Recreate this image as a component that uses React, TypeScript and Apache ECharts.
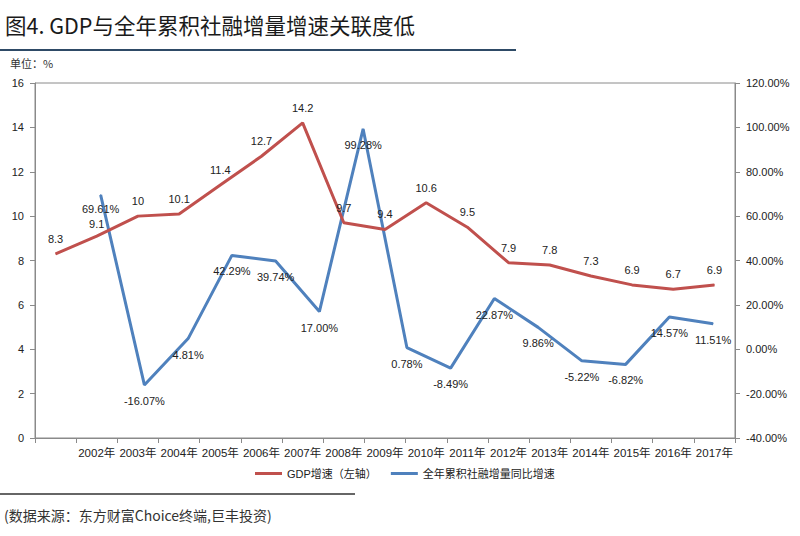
import React, { useEffect, useRef } from "react";
import * as echarts from "echarts";

const TITLE = "图4. GDP与全年累积社融增量增速关联度低";
const UNIT = "单位：%";
const SOURCE = "(数据来源：东方财富Choice终端,巨丰投资)";

const gdpCategories = ["", "2002年", "2003年", "2004年", "2005年", "2006年", "2007年", "2008年", "2009年", "2010年", "2011年", "2012年", "2013年", "2014年", "2015年", "2016年", "2017年"];
const sfCategories = ["2002", "2003", "2004", "2005", "2006", "2007", "2008", "2009", "2010", "2011", "2012", "2013", "2014", "2015", "2016", "2017"];

const gdpName = "GDP增速（左轴）";
const sfName = "全年累积社融增量同比增速";

const gdpValues = [8.3, 9.1, 10, 10.1, 11.4, 12.7, 14.2, 9.7, 9.4, 10.6, 9.5, 7.9, 7.8, 7.3, 6.9, 6.7, 6.9];
const sfValues = [null, 69.61, -16.07, 4.81, 42.29, 39.74, 17.0, 99.28, 0.78, -8.49, 22.87, 9.86, -5.22, -6.82, 14.57, 11.51];

const FONT = "Liberation Sans, 'Noto Sans CJK SC', sans-serif";
const CJK = "'Noto Sans CJK SC', 'Liberation Sans', sans-serif";

export default function App() {
  const ref = useRef<HTMLDivElement>(null);
  useEffect(() => {
    if (!ref.current) return;
    const chart = echarts.init(ref.current, undefined, { renderer: "svg" });
    const axisColor = "#8a8a8a";
    // nudge the one GDP label that sits right under a blue label
    const gdpData = gdpValues.map((v, i) =>
      i === 1 ? { value: v, label: { offset: [0, 3] } } : v
    );
    const sfData = sfValues.map((v, i) =>
      i === 1 ? { value: v, label: { offset: [0, -2] } } : v
    );
    chart.setOption({
      animation: false,
      backgroundColor: "#ffffff",
      textStyle: { fontFamily: FONT },
      grid: {
        left: 35,
        right: 65,
        top: 83,
        bottom: 98,
        show: true,
        borderColor: axisColor,
        borderWidth: 1,
        backgroundColor: "transparent",
      },
      legend: {
        left: 250,
        top: 463,
        itemGap: 14,
        itemWidth: 27,
        itemHeight: 3,
        icon: "rect",
        textStyle: { fontSize: 11, color: "#222", fontFamily: FONT },
        data: [gdpName, sfName],
      },
      xAxis: [
        {
          type: "category",
          data: gdpCategories,
          boundaryGap: true,
          axisLine: { show: true, lineStyle: { color: axisColor } },
          axisTick: { show: true, length: 5, lineStyle: { color: axisColor } },
          axisLabel: { interval: 0, fontSize: 11.5, color: "#222", margin: 9 },
          splitLine: { show: false },
        },
        {
          type: "category",
          data: sfCategories,
          boundaryGap: true,
          show: false,
          position: "top",
        },
      ],
      yAxis: [
        {
          type: "value",
          min: 0,
          max: 16,
          interval: 2,
          axisLine: { show: true, lineStyle: { color: axisColor } },
          axisTick: { show: true, length: 5, lineStyle: { color: axisColor } },
          axisLabel: { fontSize: 11, color: "#222", margin: 11 },
          splitLine: { show: false },
        },
        {
          type: "value",
          min: -40,
          max: 120,
          interval: 20,
          position: "right",
          axisLine: { show: true, lineStyle: { color: axisColor } },
          axisTick: { show: true, length: 5, lineStyle: { color: axisColor } },
          axisLabel: {
            fontSize: 11,
            color: "#222",
            margin: 11,
            formatter: (v: number) => v.toFixed(2) + "%",
          },
          splitLine: { show: false },
        },
      ],
      series: [
        {
          name: gdpName,
          type: "line",
          xAxisIndex: 0,
          yAxisIndex: 0,
          data: gdpData,
          symbol: "circle",
          symbolSize: 1,
          itemStyle: { color: "#C0504D" },
          lineStyle: { color: "#C0504D", width: 3 },
          label: {
            show: true,
            position: "top",
            distance: 9,
            fontSize: 11,
            color: "#222",
          },
          z: 3,
        },
        {
          name: sfName,
          type: "line",
          xAxisIndex: 1,
          yAxisIndex: 1,
          data: sfData,
          connectNulls: false,
          symbol: "circle",
          symbolSize: 1,
          itemStyle: { color: "#4F81BD" },
          lineStyle: { color: "#4F81BD", width: 3 },
          label: {
            show: true,
            position: "bottom",
            distance: 10,
            fontSize: 11,
            color: "#222",
            formatter: (p: any) => (p.value == null ? "" : Number(p.value).toFixed(2) + "%"),
          },
          z: 2,
        },
      ],
      graphic: [
        {
          type: "text",
          left: 5,
          top: 14,
          style: { text: TITLE, fontSize: 21.5, fill: "#1a1a1a", fontFamily: CJK },
        },
        {
          type: "line",
          shape: { x1: 0, y1: 50, x2: 516, y2: 50 },
          style: { stroke: "#2e4a66", lineWidth: 2 },
        },
        {
          type: "text",
          left: 10,
          top: 57,
          style: { text: UNIT, fontSize: 11, fill: "#333", fontFamily: CJK },
        },
        {
          type: "line",
          shape: { x1: 0, y1: 494, x2: 355, y2: 494 },
          style: { stroke: "#333", lineWidth: 1.5 },
        },
        {
          type: "text",
          left: 4,
          top: 508,
          style: { text: SOURCE, fontSize: 14, fill: "#333", fontFamily: CJK },
        },
      ],
    });
    return () => chart.dispose();
  }, []);
  return (
    <div
      ref={ref}
      style={{ position: "fixed", left: 0, top: 0, width: 800, height: 536, background: "#fff" }}
    />
  );
}
